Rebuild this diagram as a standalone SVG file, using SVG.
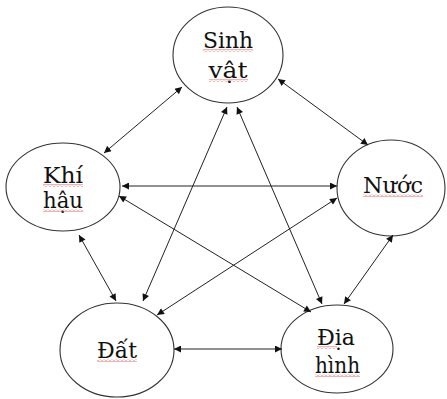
<svg xmlns="http://www.w3.org/2000/svg" width="447" height="399" viewBox="0 0 447 399">
<style>
.n{fill:#fff;stroke:#333;stroke-width:1.1}
text{font-family:'DejaVu Serif',serif;font-size:23px;fill:#111;text-anchor:middle}
.c line{stroke:#222;stroke-width:1;marker-start:url(#a);marker-end:url(#a)}
.sq{fill:url(#w)}
</style>
<defs>
<marker id="a" viewBox="0 0 10 10" refX="10" refY="5" markerWidth="8" markerHeight="7" markerUnits="userSpaceOnUse" orient="auto-start-reverse">
<path d="M0,0L10,5L0,10z" fill="#111"/>
</marker>
<pattern id="w" width="4" height="3" patternUnits="userSpaceOnUse">
<polyline points="0,2.5 2,0.5 4,2.5" fill="none" stroke="#e04040" stroke-width="0.8"/>
</pattern>
</defs>
<rect width="447" height="399" fill="#fff"/>
<g id="n-sinhvat"><ellipse class="n" cx="228" cy="55" rx="55" ry="48"/>
<text x="228" y="48" textLength="50" lengthAdjust="spacingAndGlyphs">Sinh</text><text x="228" y="78" textLength="39" lengthAdjust="spacingAndGlyphs">vật</text>
<rect class="sq" x="203" y="49" width="50" height="3"/><rect class="sq" x="209" y="79" width="39" height="3"/></g>
<g id="n-khihau"><ellipse class="n" cx="63" cy="187" rx="57" ry="44"/>
<text x="63" y="183" textLength="40" lengthAdjust="spacingAndGlyphs">Khí</text><text x="63" y="208" textLength="40" lengthAdjust="spacingAndGlyphs">hậu</text>
<rect class="sq" x="43" y="184" width="40" height="3"/><rect class="sq" x="43" y="209" width="40" height="3"/></g>
<g id="n-nuoc"><ellipse class="n" cx="391" cy="188" rx="54" ry="48"/>
<text x="393" y="193" textLength="60" lengthAdjust="spacingAndGlyphs">Nước</text>
<rect class="sq" x="363" y="194" width="60" height="3"/></g>
<g id="n-dat"><ellipse class="n" cx="117" cy="350" rx="57" ry="47"/>
<text x="117" y="358" textLength="40" lengthAdjust="spacingAndGlyphs">Đất</text>
<rect class="sq" x="97" y="359" width="40" height="3"/></g>
<g id="n-diahinh"><ellipse class="n" cx="337" cy="349" rx="56" ry="44"/>
<text x="336" y="345" textLength="38" lengthAdjust="spacingAndGlyphs">Địa</text><text x="337.5" y="373" textLength="45" lengthAdjust="spacingAndGlyphs">hình</text>
<rect class="sq" x="317" y="346" width="20" height="3"/><rect class="sq" x="315" y="374" width="45" height="3"/></g>
<g id="connectors" class="c">
<line x1="182" y1="87" x2="104" y2="153"/>
<line x1="278" y1="79" x2="368" y2="145"/>
<line x1="227" y1="107" x2="143" y2="301"/>
<line x1="237" y1="107" x2="322" y2="304"/>
<line x1="122" y1="186" x2="337" y2="186"/>
<line x1="119" y1="196" x2="311" y2="312"/>
<line x1="337" y1="198" x2="157" y2="315"/>
<line x1="79" y1="235" x2="116" y2="301"/>
<line x1="393" y1="235" x2="344" y2="304"/>
<line x1="174" y1="349" x2="282" y2="349"/>
</g>
</svg>
